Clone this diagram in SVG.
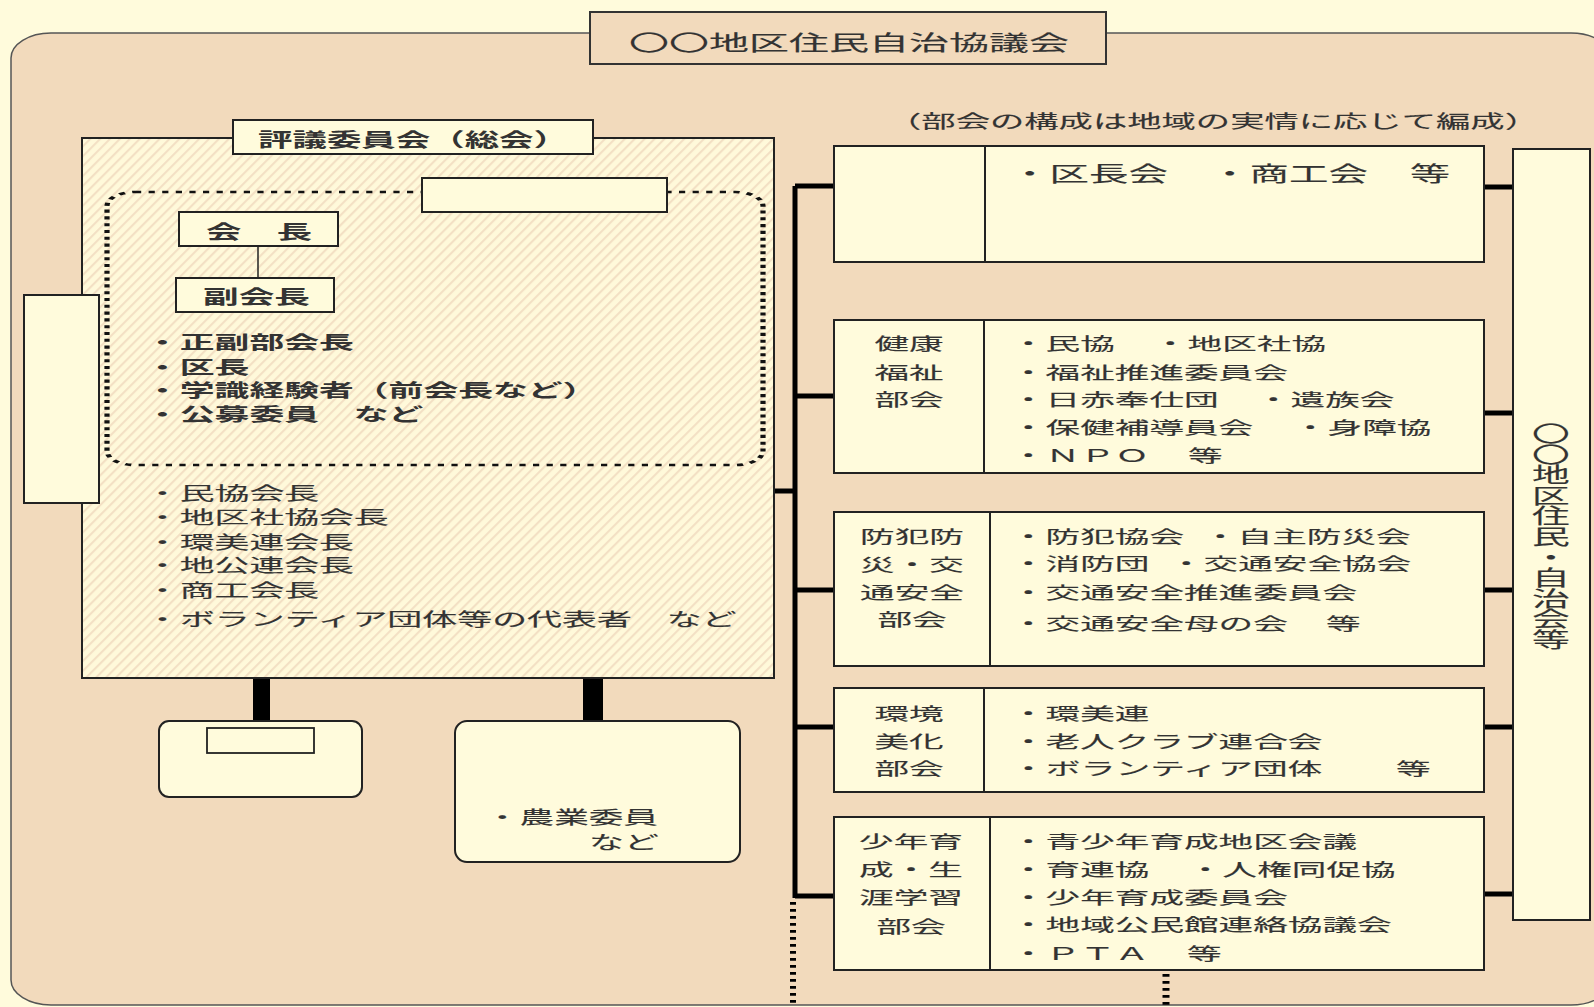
<svg xmlns="http://www.w3.org/2000/svg" width="1594" height="1007" viewBox="0 0 1594 1007">
<defs>
<pattern id="hatch" width="7" height="7" patternUnits="userSpaceOnUse" patternTransform="rotate(45)">
<rect width="7" height="7" fill="#FFF9DA"/>
<line x1="1" y1="0" x2="1" y2="7" stroke="#F3E0C4" stroke-width="2.2"/>
</pattern>
<style>
text{font-family:"Noto Sans CJK JP","Noto Sans",sans-serif;fill:#333;stroke:#333;stroke-width:0.12;dominant-baseline:central}
.box{fill:#FFFBDC;stroke:#222;stroke-width:2}
.r{font-size:17.5px}
.b{font-weight:bold;stroke-width:0}
.l{font-size:18px}
.c{stroke:#000;stroke-width:5;fill:none}
</style>
</defs>
<rect width="1594" height="1007" fill="#FFFBDC"/>
<rect x="11" y="33" width="1600" height="972" rx="40" ry="25" fill="#F2DABC" stroke="#555" stroke-width="1.5"/>

<g id="title">
<rect x="590" y="12" width="516" height="52" fill="#F2DABC" stroke="#333" stroke-width="2"/>
<text x="629" y="41" font-size="21" textLength="440" lengthAdjust="spacingAndGlyphs">〇〇地区住民自治協議会</text>
</g>
<g id="subtitle">
<text x="887" y="120" font-size="18" textLength="652" lengthAdjust="spacingAndGlyphs">（部会の構成は地域の実情に応じて編成）</text>
</g>

<g id="connectors">
<line class="c" x1="795" y1="186" x2="795" y2="898" stroke-width="8"/>
<line x1="793" y1="902" x2="793" y2="1005" stroke="#000" stroke-width="6" stroke-dasharray="2.7 4.3"/>
<line class="c" x1="719" y1="491" x2="795" y2="491" stroke-width="4.5"/>
<line class="c" x1="795" y1="186" x2="834" y2="186"/>
<line class="c" x1="795" y1="396" x2="834" y2="396"/>
<line class="c" x1="795" y1="590" x2="834" y2="590"/>
<line class="c" x1="795" y1="727" x2="834" y2="727"/>
<line class="c" x1="795" y1="896" x2="834" y2="896"/>
<line class="c" x1="1484" y1="187" x2="1514" y2="187"/>
<line class="c" x1="1484" y1="413" x2="1514" y2="413"/>
<line class="c" x1="1484" y1="590" x2="1514" y2="590"/>
<line class="c" x1="1484" y1="727" x2="1517" y2="727"/>
<line class="c" x1="1484" y1="894" x2="1514" y2="894"/>
<rect x="253" y="678" width="17" height="43" fill="#000"/>
<rect x="583" y="678" width="20" height="43" fill="#000"/>
<line x1="1166" y1="974" x2="1166" y2="1007" stroke="#000" stroke-width="7" stroke-dasharray="2.7 4.3"/>
</g>

<g id="hyogi">
<rect x="82" y="138" width="692" height="540" fill="url(#hatch)" stroke="#222" stroke-width="2"/>
<g transform="scale(2,1)">
<rect x="53.5" y="192" width="328" height="273" rx="14" ry="14" fill="none" stroke="#111" stroke-width="2.6" stroke-dasharray="3.1 3.7"/>
</g>
<rect x="233" y="120" width="360" height="34" class="box"/>
<text x="258" y="138" font-size="19" class="b" textLength="310" lengthAdjust="spacingAndGlyphs">評議委員会（総会）</text>
<text x="145" y="492" class="l" textLength="174" lengthAdjust="spacingAndGlyphs">・民協会長</text>
<text x="145" y="516" class="l" textLength="243.6" lengthAdjust="spacingAndGlyphs">・地区社協会長</text>
<text x="145" y="541" class="l" textLength="208.8" lengthAdjust="spacingAndGlyphs">・環美連会長</text>
<text x="145" y="564" class="l" textLength="208.8" lengthAdjust="spacingAndGlyphs">・地公連会長</text>
<text x="145" y="589" class="l" textLength="174" lengthAdjust="spacingAndGlyphs">・商工会長</text>
<text x="145" y="618" class="l" textLength="591.6" lengthAdjust="spacingAndGlyphs">・ボランティア団体等の代表者　など</text>
</g>

<g id="yakuin">
<rect x="422" y="178" width="245" height="34" class="box"/>
<text x="145" y="341" class="l b" textLength="208.8" lengthAdjust="spacingAndGlyphs">・正副部会長</text>
<text x="145" y="366" class="l b" textLength="104.4" lengthAdjust="spacingAndGlyphs">・区長</text>
<text x="145" y="389" class="l b" textLength="452.4" lengthAdjust="spacingAndGlyphs">・学識経験者（前会長など）</text>
<text x="145" y="413" class="l b" textLength="278.4" lengthAdjust="spacingAndGlyphs">・公募委員　など</text>
</g>

<g id="kaicho">
<rect x="179" y="212" width="159" height="34" class="box"/>
<text x="206" y="230" font-size="19" class="b" textLength="106" lengthAdjust="spacingAndGlyphs">会　長</text>
</g>
<line x1="258" y1="246" x2="258" y2="278" stroke="#222" stroke-width="1.5"/>
<g id="fukukaicho">
<rect x="176" y="278" width="158" height="34" class="box"/>
<text x="203" y="295" font-size="19" class="b" textLength="107" lengthAdjust="spacingAndGlyphs">副会長</text>
</g>

<g id="left-box">
<rect x="24" y="295" width="75" height="208" class="box"/>
</g>

<g id="bottom-small">
<rect x="159" y="721" width="203" height="76" rx="10" class="box" stroke-width="1.5"/>
<rect x="207" y="728" width="107" height="25" fill="#FFFBDC" stroke="#222" stroke-width="1.8"/>
</g>
<g id="bottom-large">
<rect x="455" y="721" width="285" height="141" rx="12" class="box" stroke-width="1.5"/>
<text x="485" y="816" class="l" textLength="173" lengthAdjust="spacingAndGlyphs">・農業委員</text>
<text x="589" y="841" class="l" textLength="70" lengthAdjust="spacingAndGlyphs">など</text>
</g>

<g id="bukai1">
<rect x="834" y="146" width="650" height="116" class="box"/>
<line x1="985" y1="146" x2="985" y2="262" stroke="#222" stroke-width="2"/>
<text x="1010" y="172" font-size="21" textLength="158" lengthAdjust="spacingAndGlyphs">・区長会</text>
<text x="1210" y="172" font-size="21" textLength="158" lengthAdjust="spacingAndGlyphs">・商工会</text>
<text x="1410" y="172" font-size="21" textLength="40" lengthAdjust="spacingAndGlyphs">等</text>
</g>

<g id="bukai2">
<rect x="834" y="320" width="650" height="153" class="box"/>
<line x1="984" y1="320" x2="984" y2="473" stroke="#222" stroke-width="2"/>
<text x="909" y="342" class="r" text-anchor="middle" textLength="69.2" lengthAdjust="spacingAndGlyphs">健康</text>
<text x="909" y="371" class="r" text-anchor="middle" textLength="69.2" lengthAdjust="spacingAndGlyphs">福祉</text>
<text x="909" y="398" class="r" text-anchor="middle" textLength="69.2" lengthAdjust="spacingAndGlyphs">部会</text>
<text x="1011" y="342" class="r" textLength="103.8" lengthAdjust="spacingAndGlyphs">・民協</text>
<text x="1153" y="342" class="r" textLength="173" lengthAdjust="spacingAndGlyphs">・地区社協</text>
<text x="1011" y="371" class="r" textLength="276.8" lengthAdjust="spacingAndGlyphs">・福祉推進委員会</text>
<text x="1011" y="398" class="r" textLength="207.6" lengthAdjust="spacingAndGlyphs">・日赤奉仕団</text>
<text x="1256" y="398" class="r" textLength="138.4" lengthAdjust="spacingAndGlyphs">・遺族会</text>
<text x="1011" y="426" class="r" textLength="242.2" lengthAdjust="spacingAndGlyphs">・保健補導員会</text>
<text x="1293" y="426" class="r" textLength="138.4" lengthAdjust="spacingAndGlyphs">・身障協</text>
<text x="1011" y="454" class="r" textLength="138.4" lengthAdjust="spacingAndGlyphs">・ＮＰＯ</text>
<text x="1188" y="454" class="r" textLength="34.6" lengthAdjust="spacingAndGlyphs">等</text>
</g>

<g id="bukai3">
<rect x="834" y="512" width="650" height="154" class="box"/>
<line x1="990" y1="512" x2="990" y2="666" stroke="#222" stroke-width="2"/>
<text x="912" y="535" class="r" text-anchor="middle" textLength="103.8" lengthAdjust="spacingAndGlyphs">防犯防</text>
<text x="912" y="563" class="r" text-anchor="middle" textLength="103.8" lengthAdjust="spacingAndGlyphs">災・交</text>
<text x="912" y="591" class="r" text-anchor="middle" textLength="103.8" lengthAdjust="spacingAndGlyphs">通安全</text>
<text x="912" y="618" class="r" text-anchor="middle" textLength="69.2" lengthAdjust="spacingAndGlyphs">部会</text>
<text x="1011" y="535" class="r" textLength="173" lengthAdjust="spacingAndGlyphs">・防犯協会</text>
<text x="1203" y="535" class="r" textLength="207.6" lengthAdjust="spacingAndGlyphs">・自主防災会</text>
<text x="1011" y="562" class="r" textLength="138.4" lengthAdjust="spacingAndGlyphs">・消防団</text>
<text x="1169" y="562" class="r" textLength="242.2" lengthAdjust="spacingAndGlyphs">・交通安全協会</text>
<text x="1011" y="591" class="r" textLength="346" lengthAdjust="spacingAndGlyphs">・交通安全推進委員会</text>
<text x="1011" y="622" class="r" textLength="276.8" lengthAdjust="spacingAndGlyphs">・交通安全母の会</text>
<text x="1326" y="622" class="r" textLength="34.6" lengthAdjust="spacingAndGlyphs">等</text>
</g>

<g id="bukai4">
<rect x="834" y="688" width="650" height="104" class="box"/>
<line x1="984" y1="688" x2="984" y2="792" stroke="#222" stroke-width="2"/>
<text x="909" y="712" class="r" text-anchor="middle" textLength="69.2" lengthAdjust="spacingAndGlyphs">環境</text>
<text x="909" y="740" class="r" text-anchor="middle" textLength="69.2" lengthAdjust="spacingAndGlyphs">美化</text>
<text x="909" y="767" class="r" text-anchor="middle" textLength="69.2" lengthAdjust="spacingAndGlyphs">部会</text>
<text x="1011" y="712" class="r" textLength="138.4" lengthAdjust="spacingAndGlyphs">・環美連</text>
<text x="1011" y="740" class="r" textLength="311.4" lengthAdjust="spacingAndGlyphs">・老人クラブ連合会</text>
<text x="1011" y="767" class="r" textLength="311.4" lengthAdjust="spacingAndGlyphs">・ボランティア団体</text>
<text x="1396" y="767" class="r" textLength="34.6" lengthAdjust="spacingAndGlyphs">等</text>
</g>

<g id="bukai5">
<rect x="834" y="817" width="650" height="153" class="box"/>
<line x1="990" y1="817" x2="990" y2="970" stroke="#222" stroke-width="2"/>
<text x="911" y="840" class="r" text-anchor="middle" textLength="103.8" lengthAdjust="spacingAndGlyphs">少年育</text>
<text x="911" y="868" class="r" text-anchor="middle" textLength="103.8" lengthAdjust="spacingAndGlyphs">成・生</text>
<text x="911" y="896" class="r" text-anchor="middle" textLength="103.8" lengthAdjust="spacingAndGlyphs">涯学習</text>
<text x="911" y="925" class="r" text-anchor="middle" textLength="69.2" lengthAdjust="spacingAndGlyphs">部会</text>
<text x="1011" y="840" class="r" textLength="346" lengthAdjust="spacingAndGlyphs">・青少年育成地区会議</text>
<text x="1011" y="868" class="r" textLength="138.4" lengthAdjust="spacingAndGlyphs">・育連協</text>
<text x="1188" y="868" class="r" textLength="207.6" lengthAdjust="spacingAndGlyphs">・人権同促協</text>
<text x="1011" y="896" class="r" textLength="276.8" lengthAdjust="spacingAndGlyphs">・少年育成委員会</text>
<text x="1011" y="923" class="r" textLength="380.6" lengthAdjust="spacingAndGlyphs">・地域公民館連絡協議会</text>
<text x="1011" y="952" class="r" textLength="138.4" lengthAdjust="spacingAndGlyphs">・ＰＴＡ</text>
<text x="1187" y="952" class="r" textLength="34.6" lengthAdjust="spacingAndGlyphs">等</text>
</g>

<g id="jichikai">
<rect x="1513" y="149" width="77" height="771" class="box"/>
<text transform="translate(1551,0) scale(1.8,1)" font-size="21" text-anchor="middle" x="0 0 0 0 0 0 0 0 0 0 0" y="432 452.6 473.2 493.8 514.4 535 555.6 576.2 596.8 617.4 638">〇〇地区住民・自治会等</text>
</g>
</svg>
